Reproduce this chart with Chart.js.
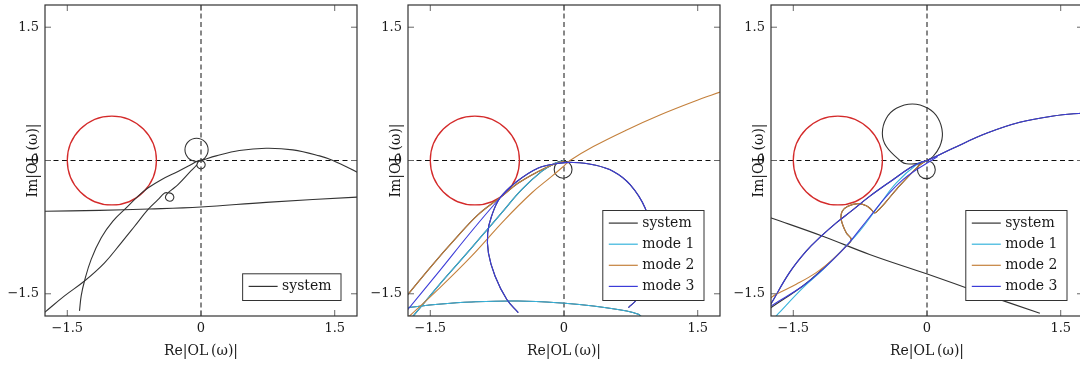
<!DOCTYPE html>
<html>
<head>
<meta charset="utf-8">
<script src="https://cdn.jsdelivr.net/npm/chart.js@4/dist/chart.umd.min.js"></script>
<style>
  html, body { margin: 0; padding: 0; background: #fff; overflow: hidden; width: 1080px; height: 370px; }
  canvas { position: absolute; top: 0; }
</style>
</head>
<body>
<canvas id="panel1" width="363" height="370" style="left:0px"></canvas>
<canvas id="panel2" width="363" height="370" style="left:363px"></canvas>
<canvas id="panel3" width="363" height="370" style="left:726px"></canvas>
<script>
// axis ticks
const tickVals = [-1.5, 0, 1.5];
const tickText = ["\u22121.5", "0", "1.5"];
const axisMin = -1.75;
const axisMax = 1.75;

// critical circle: centre and radius
const critCenter = [-1, 0];
const critRadius = 0.5;

const seriesNames = ["system", "mode 1", "mode 2", "mode 3"];

// panel 1 (system only)
const p1A = [[-1.363, -1.693], [-1.344, -1.524], [-1.307, -1.356], [-1.232, -1.113], [-1.119, -0.87], [-0.988, -0.683],
  [-0.839, -0.534], [-0.708, -0.403], [-0.596, -0.31], [-0.445, -0.216], [-0.258, -0.123], [-0.11, -0.045], [-0.05, -0.012],
  [0.042, 0.028], [0.08, 0.12], [0.042, 0.212], [-0.05, 0.25], [-0.142, 0.212], [-0.18, 0.12], [-0.142, 0.028],
  [-0.05, -0.012], [0, 0], [0.17, 0.052], [0.43, 0.112], [0.73, 0.138], [1.03, 0.12], [1.33, 0.052], [1.48, 0], [1.78, -0.145]];
const p1B = [[-1.78, -1.73], [-1.756, -1.711], [-1.531, -1.524], [-1.307, -1.356], [-1.082, -1.151], [-0.895, -0.926],
  [-0.745, -0.74], [-0.596, -0.553], [-0.483, -0.441], [-0.408, -0.366], [-0.37, -0.364], [-0.33, -0.372], [-0.305, -0.408],
  [-0.318, -0.445], [-0.352, -0.458], [-0.386, -0.444], [-0.399, -0.41], [-0.38, -0.375], [-0.33, -0.33],
  [-0.258, -0.272], [-0.108, -0.112], [-0.047, -0.048], [-0.033, -0.015], [0, -0.001], [0.033, -0.015], [0.047, -0.048],
  [0.033, -0.081], [0, -0.095], [-0.033, -0.081], [-0.047, -0.048], [-0.025, -0.01], [0, 0]];
const p1C = [[-1.78, -0.572], [-1.14, -0.561], [-0.58, -0.546], [0, -0.523], [0.73, -0.471], [1.78, -0.41]];

// panel 2
const p2Upper = [[-1.78, -1.544], [-1.749, -1.506], [-1.487, -1.188], [-1.225, -0.889], [-0.963, -0.609], [-0.70, -0.404],
  [-0.513, -0.254], [-0.288, -0.123], [-0.101, -0.037], [0, -0.005]];
const p2Lower = [[-1.74, -1.757], [-1.412, -1.45], [-1.037, -1.076], [-0.663, -0.665], [-0.363, -0.366], [-0.138, -0.179],
  [0, -0.06], [0.067, 0], [0.329, 0.157], [0.703, 0.344], [1.076, 0.512], [1.45, 0.661], [1.78, 0.78]];
const p2Cyan = [[-1.70, -1.76], [-1.674, -1.73], [-1.412, -1.413], [-1.15, -1.113], [-0.925, -0.852], [-0.70, -0.59],
  [-0.475, -0.329], [-0.251, -0.123], [-0.101, -0.03], [-0.026, -0.01], [0, 0]];
const p2Blue = [[-1.78, -1.71], [-1.749, -1.674], [-1.412, -1.262], [-1.037, -0.796], [-0.719, -0.422], [-0.60, -0.30]];
const p2Arc = [[-0.513, -1.711], [-0.643, -1.562], [-0.774, -1.30], [-0.848, -1.039], [-0.856, -0.815], [-0.813, -0.628],
  [-0.719, -0.422], [-0.551, -0.254], [-0.288, -0.085], [-0.045, -0.03], [0.105, -0.022], [0.329, -0.048], [0.554, -0.123],
  [0.742, -0.272], [0.91, -0.534], [0.975, -0.80], [0.97, -1.10], [0.90, -1.38], [0.817, -1.562], [0.723, -1.655]];
const p2Bottom = [[-1.78, -1.658], [-1.749, -1.655], [-1.412, -1.618], [-1.037, -1.592], [-0.513, -1.581], [0.011, -1.607],
  [0.329, -1.637], [0.704, -1.693], [0.835, -1.73], [0.87, -1.76]];
const p2Loop = [[-0.01, 0], [0.061, -0.029], [0.09, -0.1], [0.061, -0.171], [-0.01, -0.2], [-0.081, -0.171], [-0.11, -0.1],
  [-0.081, -0.029], [-0.01, 0]];

// panel 3
const p3Upper = [[-1.78, -1.66], [-1.748, -1.61], [-1.543, -1.262], [-1.355, -1.02], [-1.19, -0.855], [-1.018, -0.702],
  [-0.85, -0.57], [-0.644, -0.404], [-0.382, -0.216], [-0.194, -0.085], [-0.08, -0.025], [0, 0], [0.292, 0.138],
  [0.667, 0.306], [1.041, 0.43], [1.416, 0.501], [1.78, 0.538]];
const p3Low = [[-1.78, -1.67], [-1.748, -1.637], [-1.393, -1.413], [-1.169, -1.225], [-0.906, -0.964], [-0.756, -0.777],
  [-0.607, -0.59], [-0.456, -0.404], [-0.27, -0.216], [-0.119, -0.104], [0.03, -0.011], [0.12, 0.045]];
const p3Cyan = [[-1.70, -1.76], [-1.674, -1.73], [-1.39, -1.43], [-1.17, -1.23], [-0.91, -0.965], [-0.756, -0.796],
  [-0.532, -0.497], [-0.344, -0.253], [-0.119, -0.048], [0, 0]];
const p3OrangeTail = [[-1.78, -1.565], [-1.692, -1.506], [-1.467, -1.393], [-1.243, -1.262], [-1.056, -1.113], [-0.906, -0.964]];
const p3SysTail = [[-1.78, -1.68], [-1.748, -1.655], [-1.39, -1.41], [-1.17, -1.22], [-0.906, -0.964]];
const p3Wiggle = [[-0.85, -0.889], [-0.906, -0.814], [-0.962, -0.665], [-0.951, -0.572], [-0.888, -0.516], [-0.775, -0.485],
  [-0.681, -0.508], [-0.625, -0.553], [-0.588, -0.59], [-0.551, -0.564], [-0.456, -0.46], [-0.33, -0.31],
  [-0.119, -0.085], [-0.04, -0.02], [0, 0]];
const p3BigLoop = [[0, 0], [-0.06, -0.03], [-0.231, -0.037], [-0.288, -0.011], [-0.456, 0.157], [-0.501, 0.307],
  [-0.456, 0.475], [-0.344, 0.587], [-0.164, 0.636], [0.011, 0.587], [0.124, 0.475], [0.173, 0.307], [0.143, 0.157],
  [0.067, 0.045], [0, 0]];
const p3SmallLoop = [[0, 0], [0.064, -0.03], [0.093, -0.104], [0.064, -0.175], [-0.007, -0.204], [-0.078, -0.175],
  [-0.107, -0.104], [-0.078, -0.03], [0, 0]];
const p3Line = [[-1.78, -0.635], [-1.748, -0.646], [-1.169, -0.852], [-0.644, -1.057], [0.011, -1.281], [0.6, -1.49], [1.266, -1.719]];

const seriesColors = ["#333333", "#38b4dc", "#c4803c", "#3c3cd8"];
const textColor = "#1a1a1a";
const serif = "'DejaVu Serif', serif";

function curve(points, k) {
    return {
        label: seriesNames[k],
        data: points.map(function(p) { return {x: p[0], y: p[1]}; }),
        showLine: true,
        borderColor: seriesColors[k],
        borderWidth: 1.1,
        pointRadius: 0,
        tension: 0.4,
        order: 4 - k
    };
}

const nyquistDecor = {
    id: "nyquistDecor",
    beforeDatasetsDraw(chart) {
        const ctx = chart.ctx;
        const a = chart.chartArea;
        const xs = chart.scales.x, ys = chart.scales.y;
        ctx.save();
        ctx.beginPath();
        ctx.rect(a.left, a.top, a.right - a.left, a.bottom - a.top);
        ctx.clip();
        // dashed zero lines
        ctx.strokeStyle = "#111";
        ctx.lineWidth = 1;
        ctx.setLineDash([5, 3.5]);
        const x0 = xs.getPixelForValue(0), y0 = ys.getPixelForValue(0);
        ctx.beginPath();
        ctx.moveTo(x0, a.top); ctx.lineTo(x0, a.bottom);
        ctx.moveTo(a.left, y0); ctx.lineTo(a.right, y0);
        ctx.stroke();
        // critical circle
        ctx.setLineDash([]);
        const cx = xs.getPixelForValue(critCenter[0]);
        const cy = ys.getPixelForValue(critCenter[1]);
        const rx = Math.abs(xs.getPixelForValue(critCenter[0] + critRadius) - cx);
        const ry = Math.abs(ys.getPixelForValue(critCenter[1] + critRadius) - cy);
        ctx.strokeStyle = "#d42a2a";
        ctx.lineWidth = 1.3;
        ctx.beginPath();
        ctx.ellipse(cx, cy, rx, ry, 0, 0, 2 * Math.PI);
        ctx.stroke();
        ctx.restore();
    },
    afterDraw(chart, args, opts) {
        const ctx = chart.ctx;
        const a = chart.chartArea;
        const xs = chart.scales.x, ys = chart.scales.y;
        ctx.save();
        // inward tick marks on all four sides
        ctx.strokeStyle = "#666";
        ctx.lineWidth = 1;
        ctx.beginPath();
        tickVals.forEach(function(v) {
            const px = xs.getPixelForValue(v), py = ys.getPixelForValue(v);
            ctx.moveTo(px, a.bottom); ctx.lineTo(px, a.bottom - 6);
            ctx.moveTo(px, a.top); ctx.lineTo(px, a.top + 6);
            ctx.moveTo(a.left, py); ctx.lineTo(a.left + 6, py);
            ctx.moveTo(a.right, py); ctx.lineTo(a.right - 6, py);
        });
        ctx.stroke();
        // frame
        ctx.strokeStyle = "#333";
        ctx.lineWidth = 1.2;
        ctx.strokeRect(a.left, a.top, a.right - a.left, a.bottom - a.top);
        // legend box
        const names = opts.names;
        ctx.font = "14px " + serif;
        let textW = 0;
        names.forEach(function(k) { textW = Math.max(textW, ctx.measureText(seriesNames[k]).width); });
        const rowH = 21.1;
        const boxW = 6 + 29 + 4.4 + textW + 9.5;
        const boxH = names.length * rowH + 5.6;
        const right = a.right - 16, bottom = a.bottom - 15.5;
        const left = right - boxW, top = bottom - boxH;
        ctx.fillStyle = "#fff";
        ctx.fillRect(left, top, boxW, boxH);
        ctx.strokeStyle = "#333";
        ctx.lineWidth = 1;
        ctx.strokeRect(left, top, boxW, boxH);
        ctx.textBaseline = "middle";
        ctx.textAlign = "left";
        names.forEach(function(k, i) {
            const yy = top + 12.6 + i * rowH;
            ctx.strokeStyle = seriesColors[k];
            ctx.lineWidth = 1.2;
            ctx.beginPath();
            ctx.moveTo(left + 6, yy); ctx.lineTo(left + 35, yy);
            ctx.stroke();
            ctx.fillStyle = textColor;
            ctx.fillText(seriesNames[k], left + 39.4, yy);
        });
        ctx.restore();
    }
};

function tickLabel(value) {
    const i = tickVals.indexOf(value);
    return i >= 0 ? tickText[i] : "";
}

function makeChart(id, datasets, legendNames) {
    const tickFont = {family: serif, size: 13};
    const titleFont = {family: serif, size: 14};
    return new Chart(document.getElementById(id), {
        type: "scatter",
        data: {datasets: datasets},
        options: {
            responsive: false,
            animation: false,
            layout: {padding: {top: 5, right: 6, left: 0, bottom: 0}},
            plugins: {
                legend: {display: false},
                tooltip: {enabled: false},
                nyquistDecor: {names: legendNames}
            },
            scales: {
                x: {
                    type: "linear", min: axisMin, max: axisMax,
                    afterBuildTicks: function(s) { s.ticks = tickVals.map(function(v) { return {value: v}; }); },
                    afterFit: function(s) { s.height = 54; s.paddingLeft = 0; s.paddingRight = 0; },
                    grid: {display: false, drawTicks: false},
                    border: {display: false},
                    ticks: {padding: 5, color: textColor, font: tickFont, maxRotation: 0, callback: tickLabel},
                    title: {display: true, text: "Re|OL\u2009(\u03c9)|", color: textColor, font: titleFont, padding: {top: 0, bottom: 10}}
                },
                y: {
                    type: "linear", min: axisMin, max: axisMax,
                    afterBuildTicks: function(s) { s.ticks = tickVals.map(function(v) { return {value: v}; }); },
                    afterFit: function(s) { s.width = 45; s.paddingTop = 0; s.paddingBottom = 0; },
                    grid: {display: false, drawTicks: false},
                    border: {display: false},
                    ticks: {padding: 6, color: textColor, font: tickFont, callback: tickLabel},
                    title: {display: true, text: "Im|OL\u2009(\u03c9)|", color: textColor, font: titleFont, padding: {top: 24.6, bottom: 0}}
                }
            }
        },
        plugins: [nyquistDecor]
    });
}

makeChart("panel1", [curve(p1A, 0), curve(p1B, 0), curve(p1C, 0)], [0]);

makeChart("panel2", [
    curve(p2Upper, 0), curve(p2Cyan, 0), curve(p2Arc, 0), curve(p2Bottom, 0), curve(p2Loop, 0),
    curve(p2Cyan, 1), curve(p2Bottom, 1),
    curve(p2Upper, 2), curve(p2Lower, 2),
    curve(p2Arc, 3), curve(p2Blue, 3)
], [0, 1, 2, 3]);

makeChart("panel3", [
    curve(p3SysTail.concat(p3Wiggle), 0), curve(p3Upper, 0), curve(p3BigLoop, 0), curve(p3SmallLoop, 0), curve(p3Line, 0),
    curve(p3Cyan, 1),
    curve(p3OrangeTail.concat(p3Wiggle), 2),
    curve(p3Upper, 3), curve(p3Low, 3)
], [0, 1, 2, 3]);
</script>
</body>
</html>
